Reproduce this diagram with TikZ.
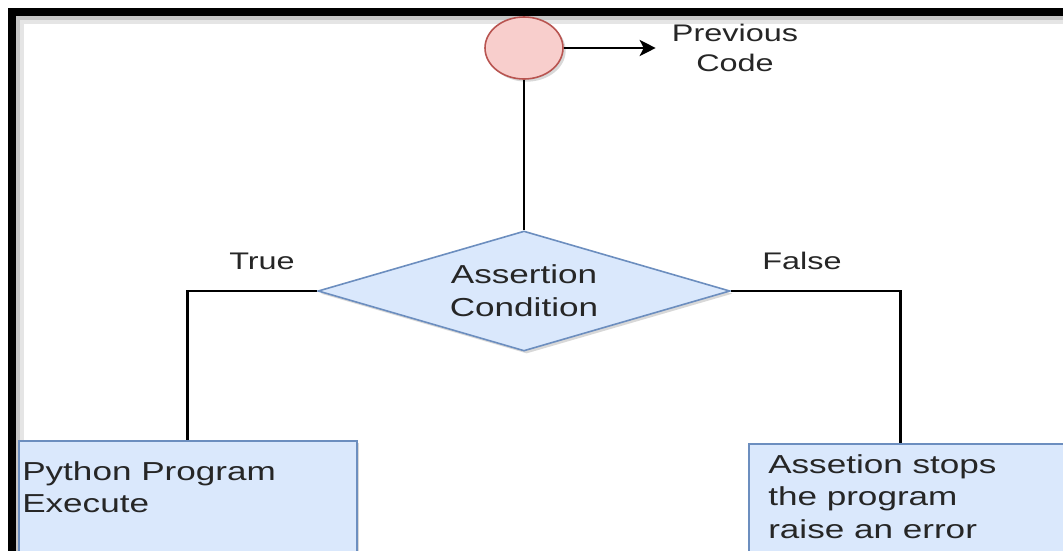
\documentclass[tikz,border=0pt]{standalone}
\usepackage{fontspec}
\setmainfont{Liberation Sans}[FakeStretch=1.35]
\usetikzlibrary{shapes.geometric,arrows.meta,shadows}

\definecolor{redfill}{HTML}{F8CECC}
\definecolor{redline}{HTML}{B85450}
\definecolor{bluefill}{HTML}{DAE8FC}
\definecolor{blueline}{HTML}{6C8EBF}
\definecolor{ink}{HTML}{262626}

\tikzset{
  flow/.style={line width=2pt, black},
  shade/.style={drop shadow={shadow xshift=2pt, shadow yshift=-2pt, opacity=.3, fill=gray}},
  bigtext/.style={text=ink, font=\fontsize{19.5}{24.5}\selectfont},
  smalltext/.style={text=ink, font=\fontsize{18}{23}\selectfont}
}

\begin{document}
\begin{tikzpicture}[x=0.75pt,y=-0.75pt]
\useasboundingbox (0,0) rectangle (1063,550);
\clip (0,0) rectangle (1063,550);
\fill[white] (0,0) rectangle (1063,550);
% frame
\draw[gray!45, line width=3pt] (18,18) rectangle (1090,580);
\draw[gray!20, line width=3pt] (22,22) rectangle (1090,580);
\draw[line width=6pt] (12,12) rectangle (1090,580);
% start and previous code
\node[ellipse, draw=redline, fill=redfill, line width=1.2pt, minimum width=58.5pt,
  minimum height=46.5pt, inner sep=0pt, shade] (start) at (524,48) {};
\node[smalltext, align=center, inner sep=12pt] (prev) at (735,48) {Previous\\Code};
\draw[flow, -{Stealth[length=12pt, width=12pt, inset=3pt]}] (start.east) -- (prev.west);
% condition
\node[diamond, aspect=3.43, draw=blueline, fill=bluefill, line width=1.2pt,
  minimum width=309pt, minimum height=90pt, inner sep=0pt, bigtext, align=center,
  shade] (cond) at (524,291) {Assertion\\Condition};
\draw[flow] (start) -- (cond);
\node[smalltext] (tlabel) at (262,261) {True};
\node[smalltext] (flabel) at (802,261) {False};
% result boxes
\node[draw=blueline, fill=bluefill, line width=1.2pt, minimum width=253.5pt,
  minimum height=112.5pt, anchor=north west, shade] (pybox) at (18,440) {};
\node[bigtext, align=left, inner sep=0pt, anchor=north west] (pytext) at (22,461)
  {Python Program\\Execute};
\node[draw=blueline, fill=bluefill, line width=1.2pt, minimum width=241.5pt,
  minimum height=112.5pt, anchor=north west, shade] (errbox) at (748,443) {};
\node[bigtext, align=left, inner sep=0pt, anchor=north west] (errtext) at (768,454)
  {Assetion stops\\the program\\raise an error};
% connecting lines
\draw[flow] (cond.west) -| (pybox.north);
\draw[flow] (cond.east) -| ([xshift=-6.75pt]errbox.north);
\end{tikzpicture}
\end{document}
